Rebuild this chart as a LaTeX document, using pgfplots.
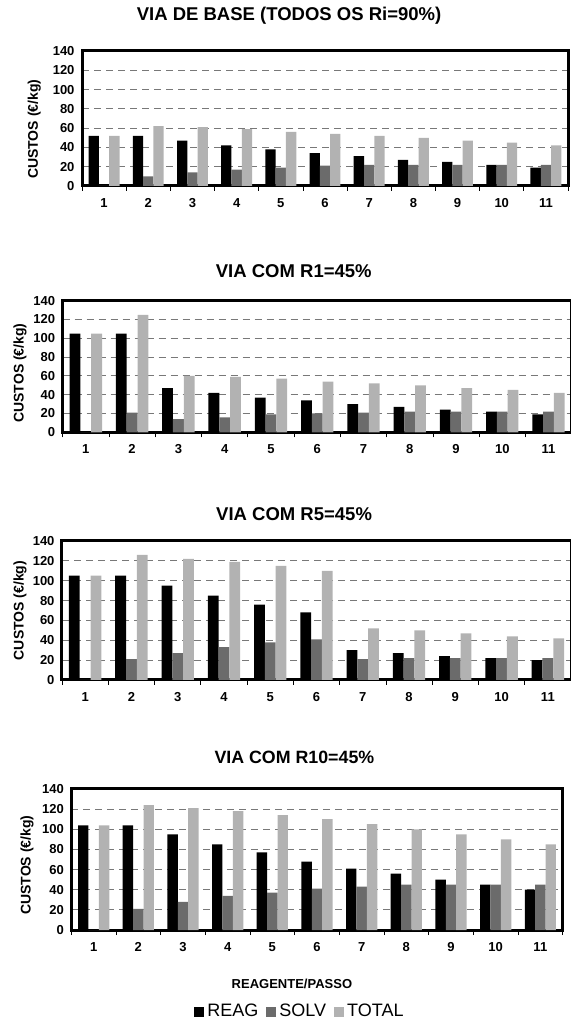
\documentclass[border=0pt]{standalone}
\usepackage{pgfplots}
\usepackage{pgfplotstable}
\pgfplotsset{compat=1.18}
\usepackage{fontspec}
\setmainfont{Liberation Sans}
\definecolor{solv}{RGB}{107,107,107}
\definecolor{tot}{RGB}{178,178,178}
\definecolor{gridc}{RGB}{120,120,120}

\pgfplotstableread{
x reag solv total
1 52 0 52
2 52 10 62
3 47 14 61
4 42 17 59
5 38 19 56
6 34 21 54
7 31 22 52
8 27 22 50
9 25 22 47
10 22 22 45
11 19 22 42
}\tA
\pgfplotstableread{
x reag solv total
1 105 0 105
2 105 21 125
3 47 14 60
4 42 16 59
5 37 19 57
6 34 20 54
7 30 21 52
8 27 22 50
9 24 22 47
10 22 22 45
11 19 22 42
}\tB
\pgfplotstableread{
x reag solv total
1 105 0 105
2 105 21 126
3 95 27 122
4 85 33 119
5 76 38 115
6 68 41 110
7 30 21 52
8 27 22 50
9 24 22 47
10 22 22 44
11 20 22 42
}\tC
\pgfplotstableread{
x reag solv total
1 104 0 104
2 104 21 124
3 95 28 121
4 85 34 118
5 77 37 114
6 68 41 110
7 61 43 105
8 56 45 100
9 50 45 95
10 45 45 90
11 40 45 85
}\tD

\pgfplotsset{
  panel/.style={
    scale only axis,
    ybar=0pt, bar width=0.233,
    xmin=0.5, xmax=11.5, ymin=0, ymax=140,
    ytick={0,20,...,140}, xtick={1,...,11},
    minor xtick={0.5,1.5,...,11.5},
    xtick pos=bottom, ytick pos=left,
    tick align=outside,
    major tick length=0pt, minor tick length=5pt,
    every tick/.style={black, line width=0.7pt},
    ymajorgrids,
    major grid style={gridc, line width=0.8pt, dash pattern=on 7pt off 5pt},
    axis line style={black, line width=3pt},
    /pgf/number format/assume math mode=true,
    tick label style={font=\bfseries\fontsize{13}{13}\selectfont},
    xticklabel style={yshift=-9pt},
    yticklabel style={xshift=-4pt},
    ylabel={CUSTOS (€/kg)},
    ylabel style={font=\bfseries\fontsize{14}{14}\selectfont, anchor=center},
    title style={anchor=center, font=\bfseries\fontsize{18.5}{18.5}\selectfont},
    legend image code/.code={\fill[#1] (0pt,-6pt) rectangle (10pt,4pt);},
  },
  reag/.style={fill=black, draw=none, bar shift=-0.233},
  solvs/.style={fill=solv, draw=none, bar shift=0},
  tots/.style={fill=tot, draw=none, bar shift=0.233},
}

\begin{document}
\begin{tikzpicture}
\path[use as bounding box] (0pt,0pt) rectangle (570pt,1019pt);

% Panel 1
\begin{axis}[panel, at={(82pt,833pt)}, anchor=south west,
  width=486pt, height=135pt,
  title={VIA DE BASE (TODOS OS Ri=90\%)},
  title style={at={(axis description cs:0.426,1.215)}},
  ylabel style={at={(axis description cs:-0.098,0.42)}}]
\addplot[reag] table[x=x,y=reag]{\tA};
\addplot[solvs] table[x=x,y=solv]{\tA};
\addplot[tots] table[x=x,y=total]{\tA};
\end{axis}

% Panel 2
\begin{axis}[panel, at={(62.7pt,586.7pt)}, anchor=south west,
  width=509pt, height=131.6pt,
  title={VIA COM R1=45\%},
  title style={at={(axis description cs:0.454,1.18)}},
  ylabel style={at={(axis description cs:-0.084,0.45)}}]
\addplot[reag] table[x=x,y=reag]{\tB};
\addplot[solvs] table[x=x,y=solv]{\tB};
\addplot[tots] table[x=x,y=total]{\tB};
\end{axis}

% Panel 3
\begin{axis}[panel, at={(62pt,339pt)}, anchor=south west,
  width=509pt, height=139pt,
  title={VIA COM R5=45\%},
  title style={at={(axis description cs:0.456,1.151)}},
  ylabel style={at={(axis description cs:-0.0825,0.5)}}]
\addplot[reag] table[x=x,y=reag]{\tC};
\addplot[solvs] table[x=x,y=solv]{\tC};
\addplot[tots] table[x=x,y=total]{\tC};
\end{axis}

% Panel 4
\begin{axis}[panel, at={(71.3pt,89pt)}, anchor=south west,
  width=491.4pt, height=141pt,
  title={VIA COM R10=45\%},
  title style={at={(axis description cs:0.454,1.184)}, font=\bfseries\fontsize{17.8}{17.8}\selectfont},
  ylabel style={at={(axis description cs:-0.09,0.46)}},
  xlabel={REAGENTE/PASSO},
  xlabel style={at={(axis description cs:0.449,-0.383)}, anchor=center, font=\bfseries\fontsize{13}{13}\selectfont},
  legend columns=3,
  legend style={draw=none, fill=none, at={(axis description cs:0.4654,-0.574)}, anchor=center,
    font=\fontsize{18}{18}\selectfont, /tikz/every even column/.append style={column sep=6pt},
    /tikz/every odd column/.append style={column sep=1pt}}]
\addplot[reag] table[x=x,y=reag]{\tD};
\addplot[solvs] table[x=x,y=solv]{\tD};
\addplot[tots] table[x=x,y=total]{\tD};
\legend{REAG,SOLV,TOTAL}
\end{axis}
\end{tikzpicture}
\end{document}
